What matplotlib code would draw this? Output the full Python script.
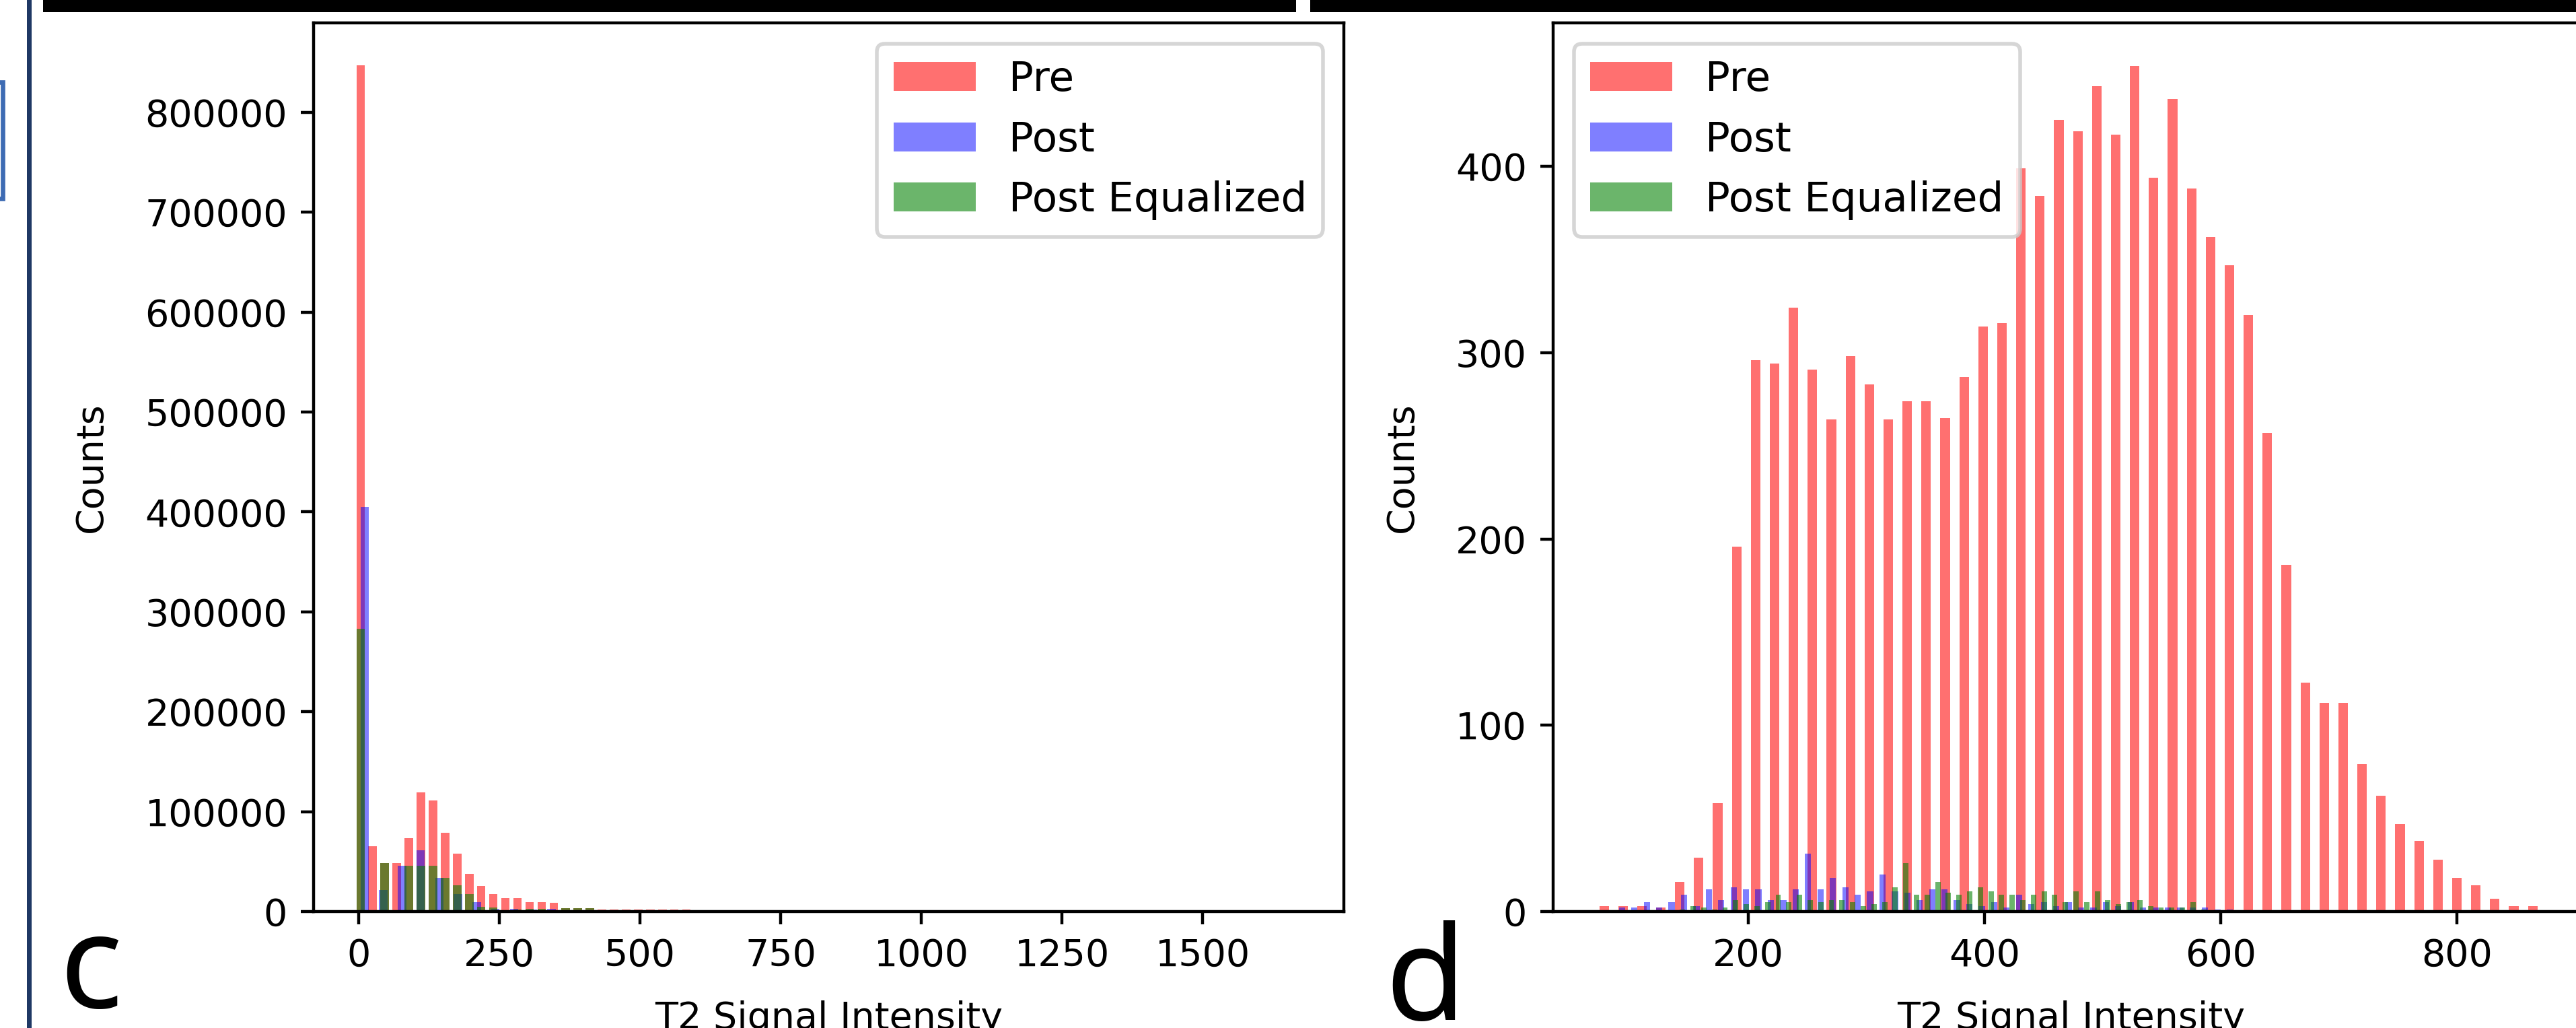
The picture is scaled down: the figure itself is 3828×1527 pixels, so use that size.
import matplotlib.pyplot as plt
import numpy as np
from matplotlib.patches import Rectangle

W, H = 3828, 1527
DPI = 400

labels = ['Pre', 'Post', 'Post Equalized']
colors = ['red', 'blue', 'green']
alphas = [0.56, 0.5, 0.58]

# panel c: counts per bin and the intensity range each histogram covers
c_pre_range = (-7.2, 593.4)
c_pre = [847000, 65600, 48700, 48700, 73400, 119000, 111000, 78600, 57700, 37500,
         25600, 17300, 13500, 13500, 9400, 9400, 8800, 3500, 3500, 3500,
         2000, 2000, 2000, 2000, 2000, 2000, 2000, 2000]
c_post_range = (-6.0, 1654.0)
c_post = [405000, 21800, 45800, 61000, 33700, 17300, 9400, 3000, 3000, 2000,
          3000, 1000, 500, 300, 200, 100, 100, 100, 0, 0,
          0, 0, 0, 0, 0, 0, 0, 0, 0, 0,
          0, 0, 0, 0, 0, 0, 0, 0, 0, 0,
          0, 0, 0, 0, 0, 0, 0, 0, 0, 0]
c_eq_range = (-7.2, 593.4)
c_eq = [283000, 0, 48700, 0, 45800, 45800, 45800, 33700, 26000, 17300,
        5000, 4000, 0, 2000, 2500, 2500, 1000, 3500, 3500, 3500,
        0, 0, 0, 0, 0, 0, 0, 0]

# panel d
d_pre_range = (70.0, 872.0)
d_pre = [3, 3, 3, 2, 16, 29, 58, 196, 296, 294,
         324, 291, 264, 298, 283, 264, 274, 274, 265, 287,
         314, 316, 399, 384, 425, 419, 443, 417, 454, 394,
         436, 388, 362, 347, 320, 257, 186, 123, 112, 112,
         79, 62, 47, 38, 28, 18, 14, 7, 3, 3]
d_post_range = (88.0, 613.0)
d_post = [2, 2, 5, 2, 5, 9, 3, 12, 6, 13,
          12, 12, 6, 6, 12, 31, 12, 18, 13, 9,
          11, 20, 11, 10, 6, 12, 12, 6, 4, 3,
          5, 2, 9, 4, 5, 3, 5, 2, 2, 5,
          3, 5, 2, 2, 2, 2, 2, 2, 1, 1]
d_eq_range = (140.0, 590.0)
d_eq = [1, 3, 2, 1, 2, 6, 4, 3, 5, 9,
        5, 9, 6, 5, 6, 6, 5, 3, 4, 5,
        13, 26, 9, 9, 16, 10, 9, 11, 13, 11,
        9, 9, 6, 9, 11, 9, 5, 11, 5, 11,
        6, 4, 5, 6, 3, 2, 2, 2, 5, 1]


def draw_hist(ax, counts, rng, i, rwidth):
    edges = np.linspace(rng[0], rng[1], len(counts) + 1)
    centers = (edges[:-1] + edges[1:]) / 2
    ax.hist(centers, bins=edges, weights=counts, color=colors[i], alpha=alphas[i],
            rwidth=rwidth, label=labels[i])


def style_axes(ax):
    ax.set_xlabel('T2 Signal Intensity', labelpad=7)
    ax.set_ylabel('Counts', labelpad=9.5)


fig = plt.figure(figsize=(W / DPI, H / DPI), dpi=DPI)

bottom = (H - 1354) / H
height = (1354 - 34) / H
ax_c = fig.add_axes([466 / W, bottom, (1997 - 466) / W, height])
ax_d = fig.add_axes([2308 / W, bottom, 1540 / W, height])

draw_hist(ax_c, c_pre, c_pre_range, 0, 0.7)
draw_hist(ax_c, c_post, c_post_range, 1, 0.45)
draw_hist(ax_c, c_eq, c_eq_range, 2, 0.7)
ax_c.set_xlim(-80, 1751)
ax_c.set_ylim(0, 889500)
ax_c.set_xticks([0, 250, 500, 750, 1000, 1250, 1500])
ax_c.set_yticks(np.arange(0, 800001, 100000))
style_axes(ax_c)
ax_c.legend(loc='upper right', fontsize=11)

draw_hist(ax_d, d_pre, d_pre_range, 0, 0.5)
draw_hist(ax_d, d_post, d_post_range, 1, 0.5)
draw_hist(ax_d, d_eq, d_eq_range, 2, 0.5)
ax_d.set_xlim(35, 912)
ax_d.set_ylim(0, 477)
ax_d.set_xticks([200, 400, 600, 800])
style_axes(ax_d)
ax_d.legend(loc='upper left', fontsize=11)


# page furniture around the panels
def px_rect(x0, y0, x1, y1, **kw):
    fig.add_artist(Rectangle((x0 / W, 1 - y1 / H), (x1 - x0) / W, (y1 - y0) / H,
                             transform=fig.transFigure, **kw))


px_rect(64, 0, 1926, 18, color='black', lw=0)
px_rect(1947, 0, 3840, 18, color='black', lw=0)
px_rect(40, 0, 47, H, color='#1f3864', lw=0)
px_rect(-20, 122, 4, 295, facecolor='none', edgecolor='#3d6bb3', lw=1.2)

letter_font = ['Noto Sans', 'DejaVu Sans']
fig.text(88 / W, 1 - 1497 / H, 'c', fontsize=35, family=letter_font, va='baseline')
fig.text(2058 / W, 1 - 1515 / H, 'd', fontsize=35, family=letter_font, va='baseline')

fig.savefig('out.png', dpi=DPI)
